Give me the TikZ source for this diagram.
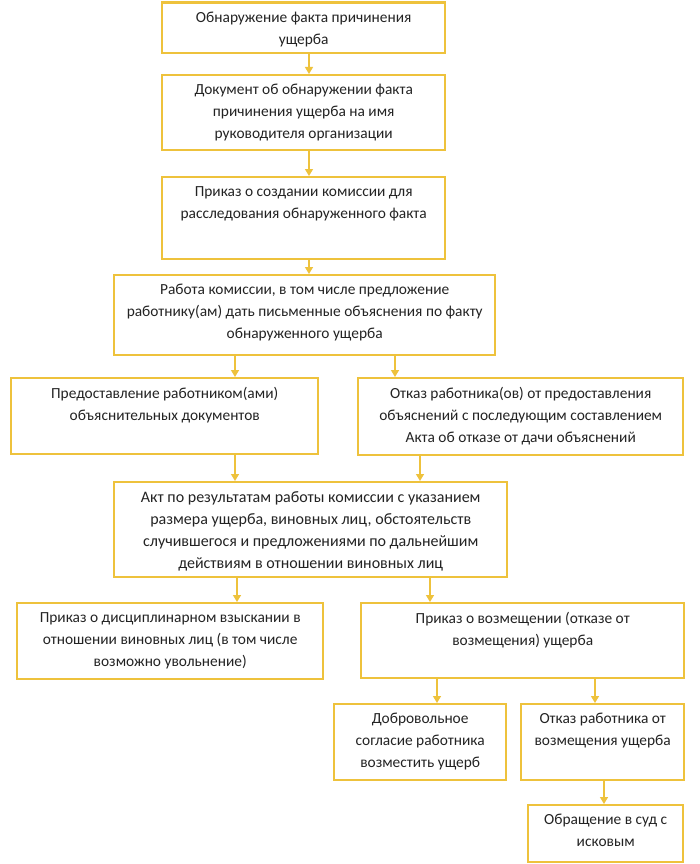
\documentclass[tikz,border=0pt]{standalone}
\usepackage{fontspec}
\setmainfont{Carlito}
\usetikzlibrary{arrows.meta,calc}
\definecolor{boxc}{RGB}{238,194,60}
\definecolor{txtc}{RGB}{35,35,35}
\newcommand\flowbox[7][]{%
  \node[fbox, anchor=north west, minimum width={#5-#3}, minimum height={#6-#4}] (#2) at (#3,#4) {};
  \node[ftxt, anchor=north, #1] (t#2) at ([yshift=-10pt]#2.north) {#7};
}
\begin{document}
\begin{tikzpicture}[x=1pt,y=-1pt,
  fbox/.style={draw=boxc, line width=2.4pt, fill=white, inner sep=0pt},
  ftxt/.style={inner sep=0pt, align=center, text=txtc, font=\fontsize{15.4}{22}\selectfont,
    execute at begin node={\rule{0pt}{13pt}}},
  arr/.style={draw=boxc, line width=1.4pt, -{Triangle[width=8pt,length=7pt]}}]
\useasboundingbox[fill=white] (0,0) rectangle (700,864);
\flowbox{b1}{161}{1.5}{444}{52}{Обнаружение факта причинения\\ущерба}
\flowbox{b2}{161}{74}{444}{149}{Документ об обнаружении факта\\причинения ущерба на имя\\руководителя организации}
\flowbox{b3}{161}{176}{444}{258}{Приказ о создании комиссии для\\расследования обнаруженного факта}
\flowbox{b4}{113}{274}{494}{354}{Работа комиссии, в том числе предложение\\работнику(ам) дать письменные объяснения по факту\\обнаруженного ущерба}
\flowbox{b5}{10}{377}{317}{453}{Предоставление работником(ами)\\объяснительных документов}
\flowbox{b6}{357}{377}{682}{454}{Отказ работника(ов) от предоставления\\объяснений с последующим составлением\\Акта об отказе от дачи объяснений}
\flowbox[font=\fontsize{16}{22}\selectfont]{b7}{113}{481}{506}{576}{Акт по результатам работы комиссии с указанием\\размера ущерба, виновных лиц, обстоятельств\\случившегося и предложениями по дальнейшим\\действиям в отношении виновных лиц}
\flowbox{b8}{16}{602}{322}{678}{Приказ о дисциплинарном взыскании в\\отношении виновных лиц (в том числе\\возможно увольнение)}
\flowbox{b9}{360}{602}{683}{677}{Приказ о возмещении (отказе от\\возмещения) ущерба}
\flowbox{b10}{333}{703}{505}{779}{Добровольное\\согласие работника\\возместить ущерб}
\flowbox{b11}{520}{703}{683}{779}{Отказ работника от\\возмещения ущерба}
\flowbox{b12}{527}{804}{682}{861}{Обращение в суд с\\исковым}
\coordinate (x309) at (309,0);
\coordinate (x235) at (235,0);
\coordinate (x395) at (395,0);
\coordinate (x420) at (420,0);
\coordinate (x237) at (237,0);
\coordinate (x430) at (430,0);
\coordinate (x437) at (437,0);
\coordinate (x595) at (595,0);
\coordinate (x604) at (604,0);
\draw[arr] (b1.south -| x309) -- (b2.north -| x309);
\draw[arr] (b2.south -| x309) -- (b3.north -| x309);
\draw[arr] (b3.south -| x309) -- (b4.north -| x309);
\draw[arr] (b4.south -| x235) -- (b5.north -| x235);
\draw[arr] (b4.south -| x395) -- (b6.north -| x395);
\draw[arr] (b5.south -| x235) -- (b7.north -| x235);
\draw[arr] (b6.south -| x420) -- (b7.north -| x420);
\draw[arr] (b7.south -| x237) -- (b8.north -| x237);
\draw[arr] (b7.south -| x430) -- (b9.north -| x430);
\draw[arr] (b9.south -| x437) -- (b10.north -| x437);
\draw[arr] (b9.south -| x595) -- (b11.north -| x595);
\draw[arr] (b11.south -| x604) -- (b12.north -| x604);
\end{tikzpicture}
\end{document}
